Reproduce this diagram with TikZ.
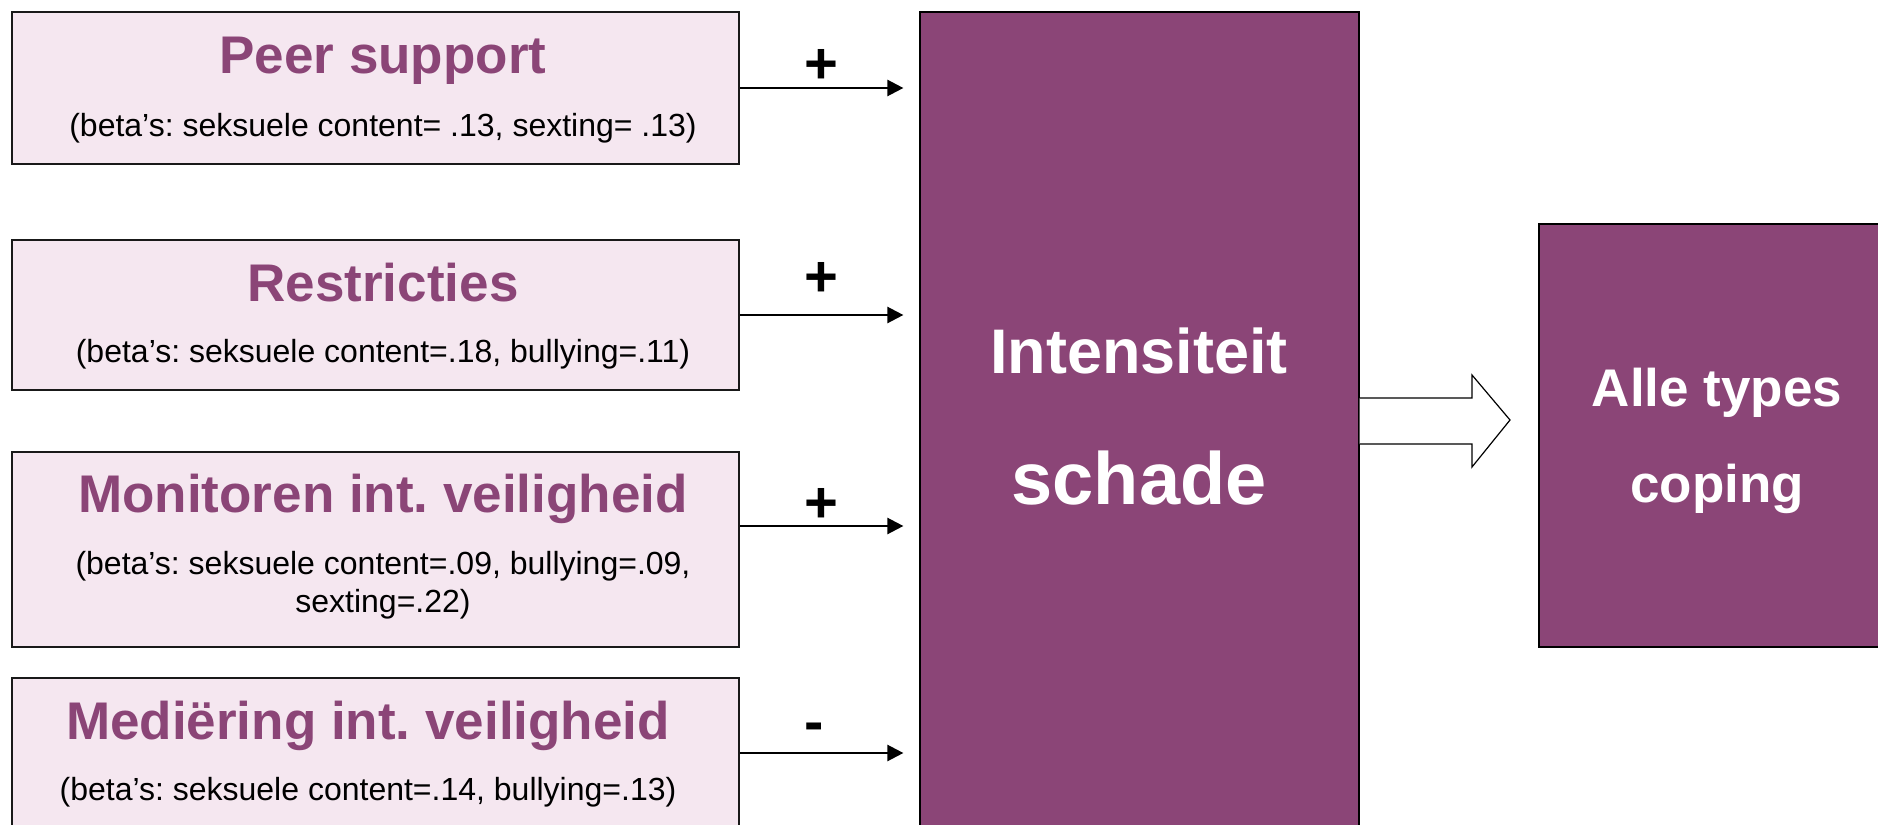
\documentclass[tikz,border=0pt]{standalone}
\usepackage{fontspec}
\setmainfont{Liberation Sans}
\usetikzlibrary{arrows.meta}
\definecolor{plum}{RGB}{139,69,119}
\definecolor{pinkbg}{RGB}{245,231,240}
\frenchspacing
\begin{document}
\begin{tikzpicture}[x=0.5pt,y=-0.5pt,
  inbox/.style={draw=black!90, line width=1.4pt, fill=pinkbg, rectangle, inner sep=0pt, minimum width=363.5pt},
  purplebox/.style={draw=black, fill=plum, rectangle, inner sep=0pt},
  ttl/.style={anchor=base, inner sep=0pt, text=plum, font=\bfseries\fontsize{26.5}{30}\selectfont},
  beta/.style={anchor=base, inner sep=0pt, font=\fontsize{16}{19}\selectfont},
  sign/.style={inner sep=0pt, font=\bfseries\fontsize{29}{30}\selectfont},
  conn/.style={line width=1.2pt, -{Triangle[length=8pt,width=8pt]}, shorten >=8pt},
  wtxt/.style={anchor=base, inner sep=0pt, text=white, font=\bfseries},
  blockarrow/.style={draw=black, line width=0.6pt, fill=white, line join=miter}
]
\clip (0,0) rectangle (1878,824);
\fill[white] (0,0) rectangle (1878,824);

% left boxes
\node[inbox, minimum height=76pt] (b1) at (375.5,88) {};
\node[inbox, minimum height=75pt] (b2) at (375.5,315) {};
\node[inbox, minimum height=97.5pt] (b3) at (375.5,549.5) {};
\node[inbox, minimum height=75pt] (b4) at (375.5,753) {};

% big boxes
\node[purplebox, line width=0.6pt, minimum width=219.5pt, minimum height=444pt] (big) at (1139.5,456) {};
\node[purplebox, line width=1.1pt, minimum width=210.5pt, minimum height=211.5pt] (cope) at (1749.5,435.5) {};

% texts left
\node[ttl] (t1) at (383,74) {Peer support};
\node[beta] (s1) at (383,136) {(beta’s: seksuele content= .13, sexting= .13)};
\node[ttl] (t2) at (383,301) {Restricties};
\node[beta] (s2) at (383,362) {(beta’s: seksuele content=.18, bullying=.11)};
\node[ttl] (t3) at (383,512) {Monitoren int. veiligheid};
\node[beta] (s3) at (383,574) {(beta’s: seksuele content=.09, bullying=.09,};
\node[beta] (s3b) at (383,612) {sexting=.22)};
\node[ttl] (t4) at (368,739) {Mediëring int. veiligheid};
\node[beta] (s4) at (368,800) {(beta’s: seksuele content=.14, bullying=.13)};

% texts right
\node[wtxt, font=\bfseries\fontsize{31.5}{34}\selectfont] (i1) at (1139,373) {Intensiteit};
\node[wtxt, font=\bfseries\fontsize{37}{40}\selectfont] (i2) at (1139,504) {schade};
\node[wtxt, font=\bfseries\fontsize{26.5}{30}\selectfont] (c1) at (1717,406) {Alle types};
\node[wtxt, font=\bfseries\fontsize{26.5}{30}\selectfont] (c2) at (1717,502) {coping};

% connectors
\draw[conn] (b1.east) -- (b1.east -| big.west);
\draw[conn] (b2.east) -- (b2.east -| big.west);
\coordinate (b3out) at ([yshift=11.75pt]b3.east);
\draw[conn] (b3out) -- (b3out -| big.west);
\draw[conn] (b4.east) -- (b4.east -| big.west);

% signs
\node[sign] (p1) at (821,66) {+};
\node[sign] (p2) at (821,279) {+};
\node[sign] (p3) at (821,505) {+};
\node[sign] (m4) at (814,732) {-};

% block arrow
\draw[blockarrow] (big.east |- 0,398) -- (1472,398) -- (1472,375) -- (1510,420)
  -- (1472,467) -- (1472,444) -- (big.east |- 0,444);
\end{tikzpicture}
\end{document}
